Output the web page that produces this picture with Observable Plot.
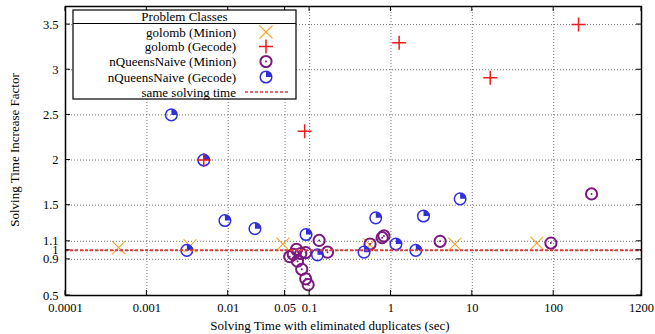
<!DOCTYPE html>
<html>
<head>
<meta charset="utf-8">
<script src="https://cdn.jsdelivr.net/npm/d3@7"></script>
<script src="https://cdn.jsdelivr.net/npm/@observablehq/plot@0.6"></script>
<style>
  html, body { margin: 0; padding: 0; background: #fff; }
  svg { display: block; }
</style>
</head>
<body>
<div id="chart"></div>
<script>
// ---------- data ----------
const golombMinionX = [0.00045, 0.0034, 0.047, 0.55, 6.1, 62];
const golombMinionY = [1.03, 1.05, 1.07, 1.06, 1.07, 1.08];

const golombGecodeX = [0.005, 0.087, 1.26, 16.6, 202];
const golombGecodeY = [2.0, 2.32, 3.3, 2.91, 3.5];

const nqMinionX = [0.057, 0.063, 0.069, 0.078, 0.0895, 0.071, 0.080, 0.0895, 0.096, 0.131, 0.166, 0.553, 0.78, 0.82, 4.02, 92.4, 292];
const nqMinionY = [0.93, 0.955, 1.01, 0.965, 0.975, 0.88, 0.79, 0.685, 0.62, 1.11, 0.98, 1.07, 1.14, 1.16, 1.10, 1.08, 1.625];

const nqGecodeX = [0.002, 0.005, 0.0091, 0.0213, 0.0031, 0.0904, 0.125, 0.467, 0.65, 1.15, 2.02, 2.51, 7.08];
const nqGecodeY = [2.5, 2.0, 1.33, 1.24, 1.0, 1.175, 0.95, 0.98, 1.36, 1.07, 1.0, 1.38, 1.57];

const sameTime = [1];

const xTicks = [0.0001, 0.001, 0.01, 0.05, 0.1, 1, 10, 100, 1200];
const xTickLabels = ["0.0001", "0.001", "0.01", "0.05", "0.1", "1", "10", "100", "1200"];
const yTicks = [0.5, 0.9, 1, 1.1, 1.5, 2, 2.5, 3, 3.5];
const yTickLabels = ["0.5", "0.9", "1", "1.1", "1.5", "2", "2.5", "3", "3.5"];

const seriesNames = ["golomb (Minion)", "golomb (Gecode)", "nQueensNaive (Minion)", "nQueensNaive (Gecode)", "same solving time"];
const legendTitle = "Problem Classes";
const xLabel = "Solving Time with eliminated duplicates (sec)";
const yLabel = "Solving Time Increase Factor";

// ---------- styles ----------
const cOrange = "#f5a32a", cRed = "#ee1c1c", cPurple = "#7a1a7e", cBlue = "#2f2fe0", cLine = "#e23a3a";
const FONT = "'Liberation Serif', 'DejaVu Serif', serif";

const toPts = (xs, ys) => xs.map((x, i) => ({x, y: ys[i]}));
const gm = toPts(golombMinionX, golombMinionY);
const gg = toPts(golombGecodeX, golombGecodeY);
const nm = toPts(nqMinionX, nqMinionY);
const ng = toPts(nqGecodeX, nqGecodeY);
const xLab = toPts(xTicks, xTickLabels).map(d => ({v: d.x, label: d.y}));
const yLab = toPts(yTicks, yTickLabels).map(d => ({v: d.x, label: d.y}));

// custom symbols (size = r^2 * pi)
const rad = s => Math.sqrt(s / Math.PI);
const symX = {draw(c, s) { const r = rad(s); c.moveTo(-r, -r); c.lineTo(r, r); c.moveTo(-r, r); c.lineTo(r, -r); }};
const symPlus = {draw(c, s) { const r = rad(s); c.moveTo(-r, 0); c.lineTo(r, 0); c.moveTo(0, -r); c.lineTo(0, r); }};
const symQuarter = {draw(c, s) { const r = rad(s); c.moveTo(0, 0); c.lineTo(0, -r); c.arc(0, 0, r, -Math.PI / 2, 0); c.closePath(); }};

const chart = Plot.plot({
  width: 655,
  height: 334,
  marginLeft: 65,
  marginRight: 14,
  marginTop: 6,
  marginBottom: 39,
  style: {fontFamily: FONT, fontSize: "12.5px", color: "#000", background: "#fff"},
  x: {type: "log", domain: [0.0001, 1200], axis: null},
  y: {domain: [0.5, 3.7], axis: null},
  marks: [
    Plot.gridX(xTicks, {stroke: "#777", strokeOpacity: 1, strokeDasharray: "1,2"}),
    Plot.gridY(yTicks, {stroke: "#777", strokeOpacity: 1, strokeDasharray: "1,2"}),
    // tick labels
    Plot.text(xLab, {x: "v", text: "label", frameAnchor: "bottom", lineAnchor: "top", dy: 8, fontSize: 12.5, fontFamily: FONT, fill: "#000"}),
    Plot.text(yLab, {y: "v", text: "label", frameAnchor: "left", textAnchor: "end", dx: -7, fontSize: 12.5, fontFamily: FONT, fill: "#000"}),
    // golomb (Minion)
    Plot.dot(gm, {x: "x", y: "y", symbol: symX, r: 6.5, stroke: cOrange, strokeWidth: 1.1, fill: "none"}),
    // nQueensNaive (Minion)
    Plot.dot(nm, {x: "x", y: "y", r: 5.6, stroke: cPurple, strokeWidth: 2, fill: "none"}),
    Plot.dot(nm, {x: "x", y: "y", r: 1, fill: cPurple, stroke: "none"}),
    // nQueensNaive (Gecode)
    Plot.dot(ng, {x: "x", y: "y", r: 5.8, stroke: cBlue, strokeWidth: 1.5, fill: "none"}),
    Plot.dot(ng, {x: "x", y: "y", symbol: symQuarter, r: 5.8, fill: cBlue, stroke: "none"}),
    // golomb (Gecode)
    Plot.dot(gg, {x: "x", y: "y", symbol: symPlus, r: 7, stroke: cRed, strokeWidth: 1.5, fill: "none"}),
    // same solving time
    Plot.ruleY(sameTime, {stroke: cLine, strokeWidth: 2, strokeDasharray: "3,2"}),
    Plot.frame({stroke: "#000", strokeWidth: 1.5})
  ]
});
document.getElementById("chart").appendChild(chart);

// ---------- decorations ----------
const svg = d3.select(chart);
const sx = chart.scale("x"), sy = chart.scale("y");
const L = 65, R = 641, T = 6, B = 295;
const tg = svg.append("g").attr("stroke", "#000").attr("stroke-width", 1);
xTicks.forEach(t => {
  const px = sx.apply(t);
  tg.append("line").attr("x1", px).attr("x2", px).attr("y1", B).attr("y2", B - 5);
  tg.append("line").attr("x1", px).attr("x2", px).attr("y1", T).attr("y2", T + 5);
});
yTicks.forEach(t => {
  const py = sy.apply(t);
  tg.append("line").attr("x1", L).attr("x2", L + 5).attr("y1", py).attr("y2", py);
  tg.append("line").attr("x1", R).attr("x2", R - 5).attr("y1", py).attr("y2", py);
});

// axis labels
svg.append("text").attr("x", 330).attr("y", 330).attr("text-anchor", "middle")
  .attr("font-family", FONT).attr("font-size", 13).attr("fill", "#000").text(xLabel);
svg.append("text").attr("transform", "translate(19,150) rotate(-90)").attr("text-anchor", "middle")
  .attr("font-family", FONT).attr("font-size", 13).attr("fill", "#000").text(yLabel);

// legend
const lg = svg.append("g").attr("font-family", FONT).attr("font-size", 13).attr("fill", "#000");
lg.append("rect").attr("x", 73).attr("y", 10).attr("width", 223).attr("height", 89)
  .attr("fill", "#fff").attr("stroke", "#000").attr("stroke-width", 1.2);
lg.append("line").attr("x1", 73).attr("x2", 296).attr("y1", 23.5).attr("y2", 23.5).attr("stroke", "#000").attr("stroke-width", 1.2);
lg.append("text").attr("x", 184.5).attr("y", 21).attr("text-anchor", "middle").text(legendTitle);
const rowY = [32, 46.5, 61.5, 77, 92];
seriesNames.forEach((n, i) => {
  lg.append("text").attr("x", 236).attr("y", rowY[i] + 4.5).attr("text-anchor", "end").text(n);
});
const sym = (type, r) => d3.symbol().type(type).size(r * r * Math.PI)();
const cx = 266;
lg.append("path").attr("transform", `translate(${cx},${rowY[0]})`).attr("d", sym(symX, 6.5)).attr("stroke", cOrange).attr("stroke-width", 1.1).attr("fill", "none");
lg.append("path").attr("transform", `translate(${cx},${rowY[1]})`).attr("d", sym(symPlus, 7)).attr("stroke", cRed).attr("stroke-width", 1.5).attr("fill", "none");
lg.append("circle").attr("cx", cx).attr("cy", rowY[2]).attr("r", 5.6).attr("stroke", cPurple).attr("stroke-width", 2).attr("fill", "none");
lg.append("circle").attr("cx", cx).attr("cy", rowY[2]).attr("r", 1).attr("fill", cPurple);
lg.append("circle").attr("cx", cx).attr("cy", rowY[3]).attr("r", 5.8).attr("stroke", cBlue).attr("stroke-width", 1.5).attr("fill", "none");
lg.append("path").attr("transform", `translate(${cx},${rowY[3]})`).attr("d", sym(symQuarter, 5.8)).attr("fill", cBlue);
lg.append("line").attr("x1", 245).attr("x2", 288).attr("y1", rowY[4]).attr("y2", rowY[4])
  .attr("stroke", cLine).attr("stroke-width", 1.5).attr("stroke-dasharray", "3,2");
</script>
</body>
</html>
